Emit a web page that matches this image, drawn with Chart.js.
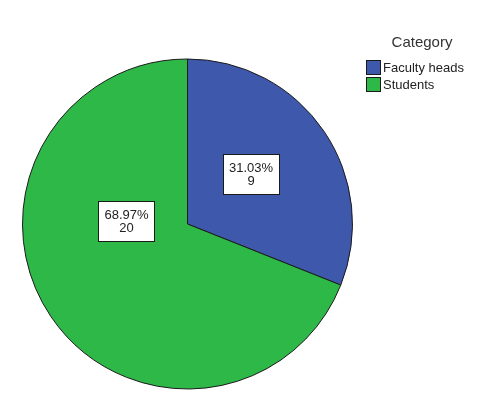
<!DOCTYPE html>
<html>
<head>
<meta charset="utf-8">
<script src="https://cdn.jsdelivr.net/npm/chart.js@4.4.0/dist/chart.umd.min.js"></script>
<style>
  html, body { margin: 0; padding: 0; background: #ffffff; }
  #wrap { width: 480px; height: 399px; position: relative; }
</style>
</head>
<body>
<div id="wrap"><canvas id="pieChart" width="480" height="399"></canvas></div>
<script>
// Kategorien und Werte
var categories = ["Faculty heads", "Students"];
var counts = [9, 20];
var percents = ["31.03%", "68.97%"];
var sliceColors = ["#3e58ac", "#2eb848"];
var legendTitle = "Category";

// Beschriftungskästen in den Segmenten (Prozent + Anzahl)
var sliceLabels = {
  id: "sliceLabels",
  afterDatasetsDraw: function (chart, args, opts) {
    var ctx = chart.ctx;
    var meta = chart.getDatasetMeta(0);
    ctx.save();
    ctx.font = "13px 'Liberation Sans', Arial, sans-serif";
    ctx.textAlign = "center";
    ctx.textBaseline = "middle";
    meta.data.forEach(function (arc, i) {
      var p = arc.getProps(["x", "y", "startAngle", "endAngle", "outerRadius"], true);
      var mid = (p.startAngle + p.endAngle) / 2 + opts.shift[i] * Math.PI / 180;
      var r = p.outerRadius * opts.dist[i];
      var cx = p.x + Math.cos(mid) * r;
      var cy = p.y + Math.sin(mid) * r;
      var line1 = percents[i];
      var line2 = String(counts[i]);
      var w = Math.max(ctx.measureText(line1).width, ctx.measureText(line2).width) + 12;
      var h = 40;
      ctx.fillStyle = "#ffffff";
      ctx.fillRect(Math.round(cx - w / 2) + 0.5, Math.round(cy - h / 2) + 0.5, Math.round(w), h);
      ctx.strokeStyle = "#1a1a1a";
      ctx.lineWidth = 1;
      ctx.strokeRect(Math.round(cx - w / 2) + 0.5, Math.round(cy - h / 2) + 0.5, Math.round(w), h);
      ctx.fillStyle = "#222222";
      ctx.fillText(line1, cx, cy - 6);
      ctx.fillText(line2, cx, cy + 7);
    });
    ctx.restore();
  }
};

// Legende rechts oben mit Titel
var sideLegend = {
  id: "sideLegend",
  afterDraw: function (chart) {
    var ctx = chart.ctx;
    var ds = chart.data.datasets[0];
    ctx.save();
    ctx.fillStyle = "#333333";
    ctx.font = "15px 'Liberation Sans', Arial, sans-serif";
    ctx.textAlign = "center";
    ctx.textBaseline = "middle";
    ctx.fillText(legendTitle, 422, 43);
    ctx.font = "13px 'Liberation Sans', Arial, sans-serif";
    ctx.textAlign = "left";
    chart.data.labels.forEach(function (label, i) {
      var y = 68 + i * 17;
      ctx.fillStyle = ds.backgroundColor[i];
      ctx.fillRect(366.5, y - 7.5, 14, 14);
      ctx.strokeStyle = "#1a1a1a";
      ctx.lineWidth = 1;
      ctx.strokeRect(366.5, y - 7.5, 14, 14);
      ctx.fillStyle = "#222222";
      ctx.fillText(label, 383, y);
    });
    ctx.restore();
  }
};

var ctx = document.getElementById("pieChart").getContext("2d");
var myChart = new Chart(ctx, {
  type: "pie",
  data: {
    labels: categories,
    datasets: [{
      data: counts,
      backgroundColor: sliceColors,
      borderColor: "#1a1a1a",
      borderWidth: 1
    }]
  },
  options: {
    responsive: false,
    animation: false,
    layout: { padding: { left: 22, right: 127, top: 58, bottom: 9 } },
    plugins: {
      legend: { display: false },
      tooltip: { enabled: false },
      sliceLabels: { dist: [0.49, 0.37], shift: [-4, 37] }
    }
  },
  plugins: [sliceLabels, sideLegend]
});
</script>
</body>
</html>
